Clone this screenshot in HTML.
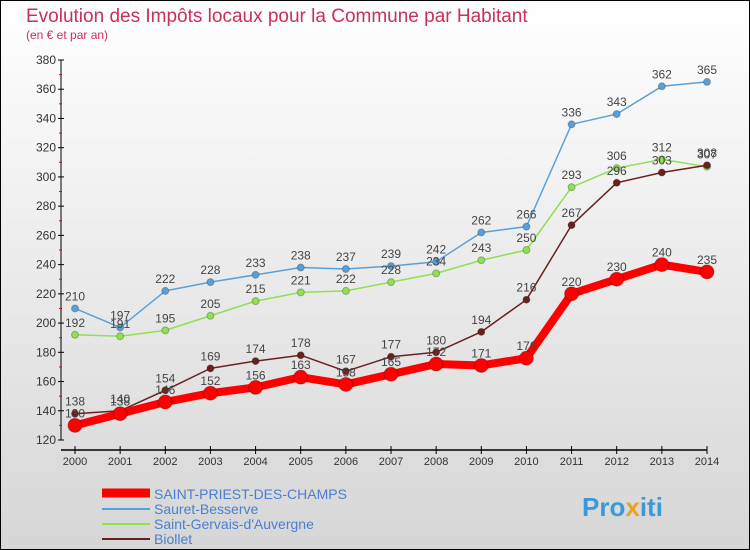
<!DOCTYPE html>
<html><head><meta charset="utf-8"><style>
body{margin:0}
svg{display:block;font-family:"Liberation Sans",sans-serif}
</style></head><body>
<svg width="750" height="550" viewBox="0 0 750 550">
<defs><linearGradient id="bg" x1="0" y1="0" x2="0" y2="1"><stop offset="0" stop-color="#ffffff"/><stop offset="1" stop-color="#d6d6d6"/></linearGradient></defs>
<rect x="0.5" y="0.5" width="749" height="549" fill="url(#bg)" stroke="#000"/>
<text x="26" y="22" font-size="19" fill="#c8305a">Evolution des Impôts locaux pour la Commune par Habitant</text>
<text x="26" y="39" font-size="12" fill="#c8305a">(en € et par an)</text>
<g id="axes"></g><g id="series"></g>
<g>
<line x1="102" y1="493" x2="150" y2="493" stroke="#ff0000" stroke-width="9"/>
<text x="154" y="499" font-size="14" fill="#4a7fd0">SAINT-PRIEST-DES-CHAMPS</text>
<line x1="102" y1="509" x2="150" y2="509" stroke="#5aa0d8" stroke-width="2"/>
<text x="154" y="514" font-size="14" fill="#4a7fd0">Sauret-Besserve</text>
<line x1="102" y1="524" x2="150" y2="524" stroke="#90e050" stroke-width="2"/>
<text x="154" y="529" font-size="14" fill="#4a7fd0">Saint-Gervais-d'Auvergne</text>
<line x1="102" y1="539" x2="150" y2="539" stroke="#6b2020" stroke-width="2"/>
<text x="154" y="544" font-size="14" fill="#4a7fd0">Biollet</text>
</g>
<text x="582" y="516" font-size="26" font-weight="bold" fill="#3a9ad8">Pro<tspan fill="#f0a020">x</tspan>iti</text>
</svg>
<script>
const years=[2000,2001,2002,2003,2004,2005,2006,2007,2008,2009,2010,2011,2012,2013,2014];
const yTicks=[120,140,160,180,200,220,240,260,280,300,320,340,360,380];
const saintPriest=[130,138,146,152,156,163,158,165,172,171,176,220,230,240,235];
const sauret=[210,197,222,228,233,238,237,239,242,262,266,336,343,362,365];
const saintGervais=[192,191,195,205,215,221,222,228,234,243,250,293,306,312,307];
const biollet=[138,140,154,169,174,178,167,177,180,194,216,267,296,303,308];
const NS="http://www.w3.org/2000/svg";
const X=i=>75+i*(707-75)/(years.length-1);
const Y=v=>440-(v-120)*380/260;
function mk(p,t,a){const e=document.createElementNS(NS,t);for(const k in a)e.setAttribute(k,a[k]);p.appendChild(e);return e;}
const ax=document.getElementById('axes');
let l=mk(ax,'line',{x1:61,y1:60,x2:61,y2:440,stroke:'#000'});


l=mk(ax,'line',{x1:61,y1:450,x2:707,y2:450,stroke:'#000','stroke-width':1.5});


yTicks.forEach((v,i)=>{
 mk(ax,'line',{x1:58,y1:Y(v),x2:64,y2:Y(v),stroke:'#000'});
 if(i<yTicks.length-1)mk(ax,'line',{x1:59,y1:Y(v+10),x2:62,y2:Y(v+10),stroke:'#e00'});
 const t=mk(ax,'text',{x:56,y:Y(v)+4,'font-size':12,'text-anchor':'end',fill:'#333'});t.textContent=v;
 
 
});
years.forEach((y,i)=>{
 mk(ax,'line',{x1:X(i),y1:446,x2:X(i),y2:454,stroke:'#000'});
 const t=mk(ax,'text',{x:X(i),y:465,'font-size':11,'text-anchor':'middle',fill:'#333'});t.textContent=y;
 
 
});
const sg=document.getElementById('series');
function draw(vals,color,w,r,name){
 const g=mk(sg,'g',{});
 
 
 const pl=mk(g,'polyline',{points:vals.map((v,i)=>X(i)+','+Y(v)).join(' '),fill:'none',stroke:color,'stroke-width':w,'stroke-linejoin':'round'});
 
 
 vals.forEach((v,i)=>{
  const c=mk(g,'circle',{cx:X(i),cy:Y(v),r:r,fill:color,stroke:'rgba(0,0,0,0.25)'});
  
  
  const t=mk(g,'text',{x:X(i),y:Y(v)-8,'font-size':12,'text-anchor':'middle',fill:'#444'});t.textContent=v;
  
  
 });
}
draw(sauret,'#5aa0d8',1.5,3.5,'sauret');
draw(saintGervais,'#90e050',1.5,3.5,'saint-gervais');
draw(biollet,'#6b2020',1.5,3.5,'biollet');
draw(saintPriest,'#ff0000',8,7,'saint-priest');
</script>
</body></html>
